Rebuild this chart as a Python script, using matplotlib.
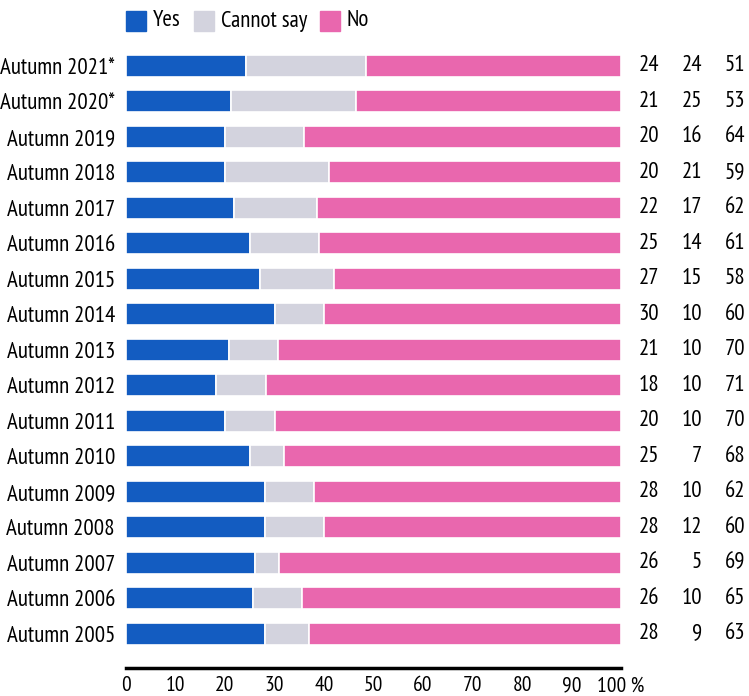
import numpy as np
import matplotlib
matplotlib.use('Agg')
import matplotlib.pyplot as plt
from matplotlib.patches import Rectangle
import matplotlib.transforms as mtransforms

plt.rcParams['font.family'] = ['PT Sans Narrow', 'Fira Sans Condensed', 'Roboto Condensed',
                               'DejaVu Sans']

# data, top row first
years = ['Autumn 2021*', 'Autumn 2020*', 'Autumn 2019', 'Autumn 2018', 'Autumn 2017',
         'Autumn 2016', 'Autumn 2015', 'Autumn 2014', 'Autumn 2013', 'Autumn 2012',
         'Autumn 2011', 'Autumn 2010', 'Autumn 2009', 'Autumn 2008', 'Autumn 2007',
         'Autumn 2006', 'Autumn 2005']
yes = [24, 21, 20, 20, 22, 25, 27, 30, 21, 18, 20, 25, 28, 28, 26, 26, 28]
cannot_say = [24, 25, 16, 21, 17, 14, 15, 10, 10, 10, 10, 7, 10, 12, 5, 10, 9]
no = [51, 53, 64, 59, 62, 61, 58, 60, 70, 71, 70, 68, 62, 60, 69, 65, 63]

series_names = ['Yes', 'Cannot say', 'No']
colors = ['#135cc1', '#d3d3de', '#e967ae']
tick_vals = list(range(0, 101, 10))
tick_labels = [str(v) for v in tick_vals[:-1]] + ['100 %']

W, H = 749, 696
fig = plt.figure(figsize=(W / 100, H / 100), dpi=100)
ax = fig.add_axes([126 / W, 1 - 668 / H, (621 - 126) / W, (668 - 48) / H])

n = len(years)
ypos = np.arange(n)[::-1]
data = np.array([yes, cannot_say, no], dtype=float)
# rows are drawn as shares of their own total so every bar ends at 100
shares = data / data.sum(axis=0) * 100
left = np.zeros(n)
for vals, col in zip(shares, colors):
    ax.barh(ypos, vals, left=left, height=0.62, color=col, edgecolor='white', linewidth=1.2)
    left += vals

ax.set_xlim(0, 100)
ax.set_ylim(-0.96, n - 0.5)
ax.set_yticks(ypos)
ax.set_yticklabels(years, fontsize=16.5)
ax.set_xticks(tick_vals)
ax.set_xticklabels(tick_labels, fontsize=15.5)
ax.tick_params(axis='both', length=0)
ax.tick_params(axis='y', pad=8)
ax.tick_params(axis='x', pad=6)
for s in ['top', 'right', 'left']:
    ax.spines[s].set_visible(False)
ax.spines['bottom'].set_linewidth(2.5)
ax.spines['bottom'].set_color('black')

# value columns on the right
trans = mtransforms.blended_transform_factory(fig.transFigure, ax.transData)
for col_x, vals in zip([659, 702, 745], [yes, cannot_say, no]):
    for y, v in zip(ypos, vals):
        ax.text(col_x / W, y, str(v), transform=trans, ha='right', va='center', fontsize=16.5)

# legend
legend_x = [126, 194, 320]
for x0, name, col in zip(legend_x, series_names, colors):
    fig.patches.append(Rectangle((x0 / W, 1 - 31 / H), 20 / W, 20 / H,
                                 transform=fig.transFigure, color=col))
    fig.text((x0 + 27) / W, 1 - 21 / H, name, fontsize=16.5, ha='left', va='center')

fig.savefig('out.png', dpi=100)
